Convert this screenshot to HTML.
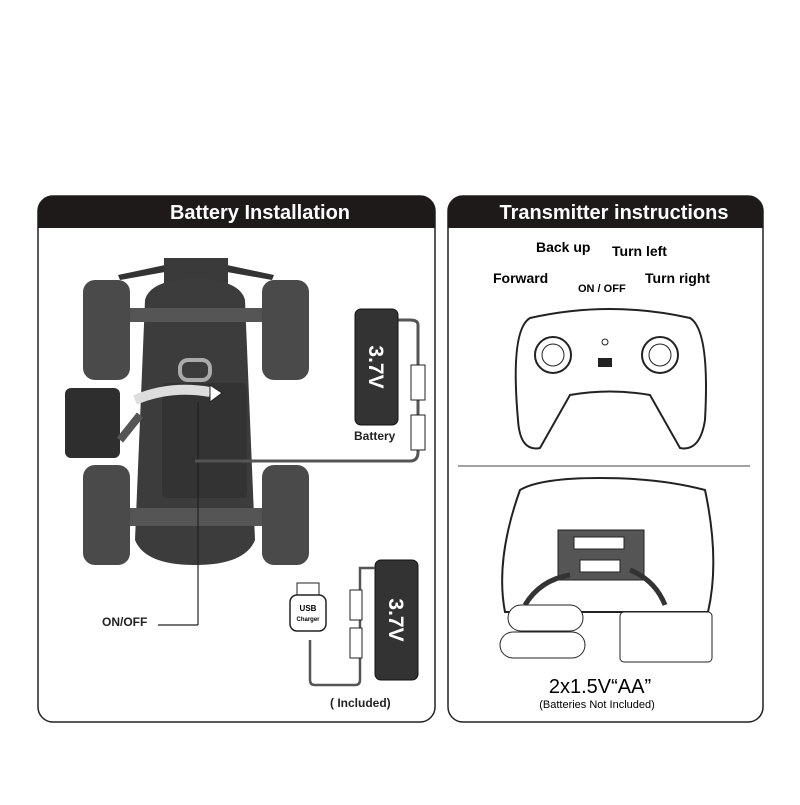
<!DOCTYPE html>
<html><head><style>
body{margin:0;width:800px;height:800px;background:#fff;overflow:hidden}
</style></head><body>
<svg width="800" height="800" viewBox="0 0 800 800" xmlns="http://www.w3.org/2000/svg" font-family="Liberation Sans, sans-serif">
<rect x="38" y="196" width="397" height="526" rx="15" fill="#fff" stroke="#222" stroke-width="1.5"/>
<path d="M38 228 V211 a15 15 0 0 1 15 -15 H420 a15 15 0 0 1 15 15 V228 Z" fill="#1e1a1a"/>
<text x="260" y="219" font-size="20" font-weight="bold" fill="#fff" text-anchor="middle">Battery Installation</text>
<rect x="448" y="196" width="315" height="526" rx="15" fill="#fff" stroke="#222" stroke-width="1.5"/>
<path d="M448 228 V211 a15 15 0 0 1 15 -15 H748 a15 15 0 0 1 15 15 V228 Z" fill="#1e1a1a"/>
<text x="614" y="219" font-size="20" font-weight="bold" fill="#fff" text-anchor="middle">Transmitter instructions</text>

<g>
<path d="M118 275 L165 265 L165 272 L120 280Z M227 265 L274 275 L272 280 L227 272Z" fill="#333"/>
<rect x="164" y="258" width="64" height="50" fill="#3a3a3a"/>
<path d="M145 300 Q150 280 195 278 Q240 280 245 300 L255 540 Q245 565 195 565 Q145 565 135 540Z" fill="#3c3c3c"/>
<rect x="130" y="308" width="135" height="14" fill="#555"/>
<rect x="130" y="508" width="135" height="18" fill="#555"/>
<rect x="162" y="383" width="85" height="115" rx="5" fill="#333"/>
<rect x="180" y="360" width="30" height="20" rx="8" fill="none" stroke="#aaa" stroke-width="4"/>
<rect x="83" y="280" width="47" height="100" rx="12" fill="#4a4a4a"/>
<rect x="262" y="280" width="47" height="100" rx="12" fill="#4a4a4a"/>
<rect x="83" y="465" width="47" height="100" rx="12" fill="#4a4a4a"/>
<rect x="262" y="465" width="47" height="100" rx="12" fill="#4a4a4a"/>
<rect x="65" y="388" width="55" height="70" rx="6" fill="#2e2e2e"/>
<path d="M120 440 L140 415" stroke="#555" stroke-width="8"/>
<path d="M135 400 Q170 385 210 392" stroke="#ddd" stroke-width="10" fill="none"/>
<path d="M210 385 L222 393 L210 402Z" fill="#fff" stroke="#222"/>
</g>
<line x1="198" y1="402" x2="198" y2="625" stroke="#222" stroke-width="1.2"/>
<line x1="158" y1="625" x2="198" y2="625" stroke="#222" stroke-width="1.2"/>
<text x="102" y="626" font-size="12" font-weight="bold" fill="#222">ON/OFF</text>
<path d="M195 461 H410 Q418 461 418 452 V325 Q418 320 410 320 H398" stroke="#555" stroke-width="3" fill="none"/>
<rect x="411" y="365" width="14" height="35" fill="#fff" stroke="#222"/>
<rect x="411" y="415" width="14" height="35" fill="#fff" stroke="#222"/>
<rect x="355" y="309" width="43" height="116" rx="6" fill="#333" stroke="#111"/>
<text transform="translate(369,367) rotate(90)" font-size="21" font-weight="bold" fill="#fff" text-anchor="middle">3.7V</text>
<text x="354" y="440" font-size="12" font-weight="bold" fill="#222">Battery</text>

<rect x="375" y="560" width="43" height="120" rx="6" fill="#333" stroke="#111"/>
<text transform="translate(389,620) rotate(90)" font-size="21" font-weight="bold" fill="#fff" text-anchor="middle">3.7V</text>
<path d="M375 568 H360 V680 Q360 685 355 685 H315 Q310 685 310 680 V640" stroke="#555" stroke-width="2.5" fill="none"/>
<rect x="350" y="590" width="12" height="30" fill="#fff" stroke="#222"/>
<rect x="350" y="628" width="12" height="30" fill="#fff" stroke="#222"/>
<rect x="297" y="583" width="22" height="12" fill="#fff" stroke="#222"/>
<rect x="290" y="595" width="36" height="36" rx="7" fill="#fff" stroke="#222" stroke-width="1.5"/>
<text x="308" y="611" font-size="8" font-weight="bold" text-anchor="middle">USB</text>
<text x="308" y="621" font-size="6" font-weight="bold" text-anchor="middle">Charger</text>
<text x="330" y="707" font-size="12" font-weight="bold" fill="#222">( Included)</text>

<text x="536" y="252" font-size="14" font-weight="bold">Back up</text>
<text x="612" y="256" font-size="14" font-weight="bold">Turn left</text>
<text x="493" y="283" font-size="14" font-weight="bold">Forward</text>
<text x="578" y="292" font-size="11" font-weight="bold">ON  / OFF</text>
<text x="645" y="283" font-size="14" font-weight="bold">Turn right</text>
<path d="M530 318 Q610 300 690 318 Q710 330 705 420 Q700 452 680 448 L650 395 Q610 388 570 395 L540 448 Q520 452 518 420 Q510 330 530 318Z" fill="#fff" stroke="#222" stroke-width="2"/>
<circle cx="553" cy="355" r="18" fill="#fff" stroke="#222" stroke-width="2"/>
<circle cx="553" cy="355" r="11" fill="#fff" stroke="#222"/>
<circle cx="660" cy="355" r="18" fill="#fff" stroke="#222" stroke-width="2"/>
<circle cx="660" cy="355" r="11" fill="#fff" stroke="#222"/>
<rect x="598" y="358" width="14" height="9" fill="#222"/>
<circle cx="605" cy="342" r="3" fill="none" stroke="#222"/>
<line x1="458" y1="466" x2="750" y2="466" stroke="#444"/>

<path d="M520 490 Q540 478 600 478 Q660 478 705 490 Q720 560 708 612 L505 612 Q495 560 520 490Z" fill="#fff" stroke="#222" stroke-width="2"/>
<rect x="558" y="530" width="86" height="50" fill="#555" stroke="#222"/>
<rect x="574" y="537" width="50" height="12" fill="#fff" stroke="#222"/>
<rect x="580" y="560" width="40" height="12" fill="#fff" stroke="#222"/>
<path d="M525 605 Q540 580 570 575" stroke="#333" stroke-width="5" fill="none"/>
<path d="M665 605 Q655 580 630 570" stroke="#333" stroke-width="5" fill="none"/>
<rect x="620" y="612" width="92" height="50" rx="4" fill="#fff" stroke="#222"/>
<rect x="508" y="605" width="75" height="26" rx="13" fill="#fff" stroke="#222"/>
<rect x="500" y="632" width="85" height="26" rx="13" fill="#fff" stroke="#222"/>
<text x="600" y="693" font-size="20" text-anchor="middle">2x1.5V“AA”</text>
<text x="597" y="708" font-size="11" text-anchor="middle">(Batteries Not Included)</text>
</svg>
</body></html>
